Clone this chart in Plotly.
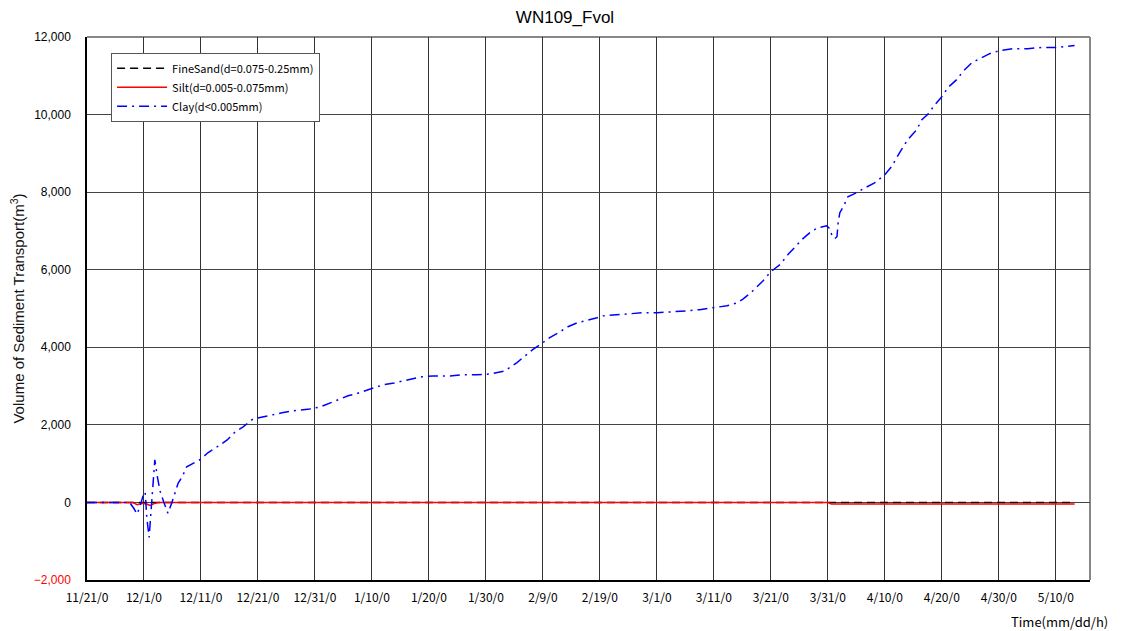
import pandas as pd
import plotly.graph_objects as go

title_text = "WN109_Fvol"
start_date = "2000-11-21"

# elapsed days from 11/21/0 and cumulative volumes (m3)
clay_days = [0, 4.0, 7.5, 8.2, 8.8, 9.3, 9.8, 10.2, 10.5, 10.9, 11.2, 11.6, 11.9, 12.3, 12.8,
             13.5, 14.2, 14.9, 16.0, 16.7, 17.5, 19.8, 21.2, 22.8, 24.6, 26.0, 27.4, 29.1,
             30.9, 32.5, 34.2, 36.1, 39.1, 40.9, 42.3, 43.9, 45.8, 47.2, 48.9, 50.5, 51.9,
             53.9, 55.4, 57.0, 58.8, 60.7, 63.7, 66.0, 68.4, 70.7, 73.3, 75.4, 76.5, 78.2,
             80.0, 81.2, 83.0, 84.4, 86.0, 87.7, 89.5, 90.5, 93.0, 95.3, 97.5, 100.0, 102.6,
             105.3, 107.5, 109.8, 112.3, 114.0, 115.1, 116.8, 118.6, 120.0, 121.6, 123.0,
             124.6, 125.4, 126.8, 128.2, 129.8, 130.2, 130.7, 131.2, 131.6, 131.8, 132.1,
             132.8, 133.5, 135.1, 136.5, 138.2, 140.0, 141.2, 142.6, 144.0, 145.6, 146.5,
             147.5, 148.8, 150.0, 151.1, 152.6, 153.7, 155.3, 157.0, 158.4, 160.2, 162.5,
             165.1, 167.5, 170.2, 172.5, 173.3]
clay_vals = [0, 0, 0, -150, -300, -100, 150, 270, -400, -900, -300, 600, 1100, 700, 300,
             0, -280, 0, 500, 660, 920, 1100, 1280, 1430, 1610, 1820, 1950, 2150,
             2210, 2250, 2310, 2360, 2410, 2460, 2540, 2640, 2750, 2800, 2880, 2950, 3030,
             3080, 3130, 3180, 3240, 3260, 3260, 3290, 3290, 3310, 3390, 3600, 3730, 3940,
             4120, 4250, 4400, 4530, 4630, 4690, 4760, 4810, 4840, 4860, 4890, 4890, 4910,
             4940, 4970, 5010, 5070, 5140, 5240, 5450, 5710, 5950, 6130, 6390,
             6640, 6770, 6950, 7080, 7130, 7080, 6900, 6800, 6850, 7210, 7470,
             7650, 7880, 7990, 8110, 8240, 8450, 8660, 9020, 9350, 9610, 9870,
             10000, 10260, 10460, 10700, 10900, 11110, 11340, 11470, 11570, 11650, 11700,
             11700, 11730, 11730, 11760, 11780]

silt_days = [0, 8.0, 8.8, 9.6, 10.5, 11.0, 11.8, 12.5, 130.0, 130.6, 173.3]
silt_vals = [0, 0, -60, -20, -40, -80, -30, 0, 0, -40, -40]

sand_days = [0, 173.0]
sand_vals = [0, 0]

x_tick_days = list(range(0, 171, 10))
x_tick_labels = ["11/21/0", "12/1/0", "12/11/0", "12/21/0", "12/31/0", "1/10/0", "1/20/0",
                 "1/30/0", "2/9/0", "2/19/0", "3/1/0", "3/11/0", "3/21/0", "3/31/0",
                 "4/10/0", "4/20/0", "4/30/0", "5/10/0"]
y_tick_vals = [-2000, 0, 2000, 4000, 6000, 8000, 10000, 12000]
y_tick_labels = ["<span style='color:#ff0000'>\u22122,000</span>", "0", "2,000", "4,000",
                 "6,000", "8,000", "10,000", "12,000"]
x_end_day = 176


def to_dates(days):
    return pd.Timestamp(start_date) + pd.to_timedelta(days, unit="D")


fig = go.Figure()
fig.add_trace(go.Scatter(x=to_dates(sand_days), y=sand_vals, mode="lines",
                         name="FineSand(d=0.075-0.25mm)",
                         line=dict(color="#000000", width=1.5, dash="8px,5px")))
fig.add_trace(go.Scatter(x=to_dates(silt_days), y=silt_vals, mode="lines",
                         name="Silt(d=0.005-0.075mm)",
                         line=dict(color="#ff0000", width=1.5)))
fig.add_trace(go.Scatter(x=to_dates(clay_days), y=clay_vals, mode="lines",
                         name="Clay(d<0.005mm)",
                         line=dict(color="#0000ff", width=1.5, dash="10px,5px,2px,5px")))

# the page body adds an 8px offset, so the figure is 8px smaller than the window
fig.update_layout(
    width=1114, height=623,
    margin=dict(l=79, r=32, t=29, b=51, autoexpand=False),
    paper_bgcolor="white", plot_bgcolor="white",
    title=dict(text=title_text, x=0.5, xanchor="center", y=0.985, yanchor="middle",
               font=dict(family="Liberation Sans, Arial", size=17, color="#000")),
    showlegend=True,
    legend=dict(x=0.024, y=0.971, xanchor="left", yanchor="top",
                bgcolor="white", bordercolor="#555555", borderwidth=1,
                font=dict(family="Noto Sans CJK JP", size=11, color="#000"),
                tracegroupgap=0, itemwidth=50),
    font=dict(family="Liberation Sans, Arial", color="#000"),
)

fig.update_xaxes(
    type="date", automargin=False,
    range=[to_dates([0])[0], to_dates([x_end_day])[0]],
    tickvals=to_dates(x_tick_days), ticktext=x_tick_labels,
    ticks="", ticklabelstandoff=6,
    tickfont=dict(family="Noto Sans CJK JP", size=12, color="#000"),
    showgrid=True, gridcolor="#333333", gridwidth=1,
    showline=True, linecolor="#000000", linewidth=1.5,
    zeroline=False,
)
fig.update_yaxes(
    automargin=False,
    range=[-2000, 12000],
    tickvals=y_tick_vals, ticktext=y_tick_labels,
    ticks="", ticklabelstandoff=12,
    tickfont=dict(family="Liberation Sans, Arial", size=12, color="#000"),
    showgrid=True, gridcolor="#444444", gridwidth=1,
    showline=True, linecolor="#000000", linewidth=1.5,
    zeroline=False,
    title=dict(text="Volume of Sediment Transport(m<sup>3</sup>)", standoff=6,
               font=dict(family="Liberation Sans, Arial", size=15, color="#111")),
)

# gray top and right frame lines of the plot area
fig.add_shape(type="line", xref="paper", yref="paper", x0=0, x1=1, y0=1, y1=1,
              line=dict(color="#888888", width=2), layer="below")
fig.add_shape(type="line", xref="paper", yref="paper", x0=1, x1=1, y0=0, y1=1,
              line=dict(color="#888888", width=2), layer="below")

fig.add_annotation(text="Time(mm/dd/h)", xref="paper", yref="paper", x=1.02, y=-0.055,
                   xanchor="right", yanchor="top", showarrow=False,
                   font=dict(family="Noto Sans CJK JP", size=13, color="#000"))

fig.write_html("out.html")
